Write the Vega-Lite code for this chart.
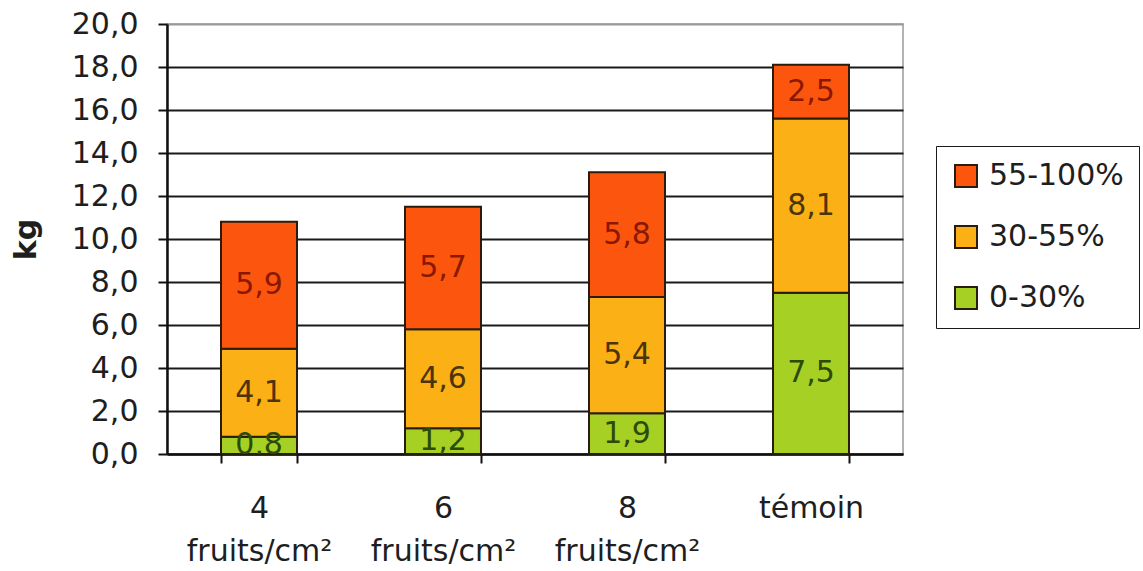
{
  "$schema": "https://vega.github.io/schema/vega-lite/v6.json",
  "autosize": {"type": "none"},
  "padding": {"left": 167, "top": 24, "right": 240, "bottom": 117},
  "width": 736,
  "height": 430,
  "background": "white",
  "config": {
    "locale": {
      "number": {"decimal": ",", "thousands": " ", "grouping": [3], "currency": ["", " €"]}
    },
    "font": "DejaVu Sans",
    "view": {"stroke": "#9a9a9a", "strokeWidth": 1.5}
  },
  "data": {
    "values": [
      {"traitement": "4 fruits/cm²", "classe": "0-30%", "ordre": 1, "kg": 0.8},
      {"traitement": "4 fruits/cm²", "classe": "30-55%", "ordre": 2, "kg": 4.1},
      {"traitement": "4 fruits/cm²", "classe": "55-100%", "ordre": 3, "kg": 5.9},
      {"traitement": "6 fruits/cm²", "classe": "0-30%", "ordre": 1, "kg": 1.2},
      {"traitement": "6 fruits/cm²", "classe": "30-55%", "ordre": 2, "kg": 4.6},
      {"traitement": "6 fruits/cm²", "classe": "55-100%", "ordre": 3, "kg": 5.7},
      {"traitement": "8 fruits/cm²", "classe": "0-30%", "ordre": 1, "kg": 1.9},
      {"traitement": "8 fruits/cm²", "classe": "30-55%", "ordre": 2, "kg": 5.4},
      {"traitement": "8 fruits/cm²", "classe": "55-100%", "ordre": 3, "kg": 5.8},
      {"traitement": "témoin", "classe": "0-30%", "ordre": 1, "kg": 7.5},
      {"traitement": "témoin", "classe": "30-55%", "ordre": 2, "kg": 8.1},
      {"traitement": "témoin", "classe": "55-100%", "ordre": 3, "kg": 2.5}
    ]
  },
  "transform": [
    {"stack": "kg", "groupby": ["traitement"], "sort": [{"field": "ordre", "order": "ascending"}], "as": ["kg_bas", "kg_haut"]},
    {"calculate": "(datum.kg_bas + datum.kg_haut) / 2", "as": "kg_milieu"}
  ],
  "encoding": {
    "x": {
      "field": "traitement",
      "type": "nominal",
      "sort": ["4 fruits/cm²", "6 fruits/cm²", "8 fruits/cm²", "témoin"],
      "scale": {"paddingInner": 0.587, "paddingOuter": 0.2935},
      "axis": {
        "title": null,
        "labelAngle": 0,
        "labelExpr": "split(datum.label, ' ')",
        "labelFontSize": 30,
        "labelColor": "#1e1e1e",
        "labelLineHeight": 43,
        "labelPadding": 30,
        "labelBaseline": "top",
        "tickBand": "extent",
        "tickSize": 9,
        "tickWidth": 2,
        "tickColor": "#111",
        "domainColor": "#111",
        "domainWidth": 2.5,
        "grid": false
      }
    }
  },
  "layer": [
    {
      "mark": {"type": "bar", "stroke": "#2a1c0c", "strokeWidth": 2},
      "encoding": {
        "y": {
          "field": "kg_bas",
          "type": "quantitative",
          "scale": {"domain": [0, 20]},
          "axis": {
            "title": "kg",
            "titleFontSize": 30,
            "titleFontWeight": "bold",
            "titleColor": "#1e1e1e",
            "titlePadding": 30,
            "values": [0, 2, 4, 6, 8, 10, 12, 14, 16, 18, 20],
            "format": ".1f",
            "labelFontSize": 30,
            "labelColor": "#1e1e1e",
            "labelPadding": 20,
            "tickSize": 9,
            "tickWidth": 2,
            "tickColor": "#111",
            "domainColor": "#111",
            "domainWidth": 2.5,
            "grid": true,
            "gridColor": {"condition": {"test": "datum.value == 20", "value": "#9a9a9a"}, "value": "#1a1a1a"},
            "gridWidth": 2
          }
        },
        "y2": {"field": "kg_haut"},
        "color": {
          "field": "classe",
          "type": "nominal",
          "scale": {
            "domain": ["55-100%", "30-55%", "0-30%"],
            "range": ["#FC560E", "#FBB116", "#A6D024"]
          },
          "legend": {
            "title": null,
            "orient": "none",
            "legendX": 769,
            "legendY": 122,
            "symbolType": "square",
            "symbolSize": 484,
            "symbolStrokeColor": "#2a1c0c",
            "symbolStrokeWidth": 2,
            "labelFontSize": 30,
            "labelColor": "#1e1e1e",
            "labelOffset": 8,
            "labelLimit": 300,
            "rowPadding": 31,
            "padding": 15,
            "strokeColor": "#1a1a1a",
            "fillColor": "white"
          }
        }
      }
    },
    {
      "mark": {"type": "text", "fontSize": 30, "baseline": "middle", "align": "center", "clip": true},
      "encoding": {
        "y": {"field": "kg_milieu", "type": "quantitative"},
        "text": {"field": "kg", "type": "quantitative", "format": ".1f"},
        "color": {
          "condition": [
            {"test": "datum.classe == '55-100%'", "value": "#8a1800"},
            {"test": "datum.classe == '30-55%'", "value": "#4d3408"}
          ],
          "value": "#2c4a08"
        }
      }
    }
  ]
}
